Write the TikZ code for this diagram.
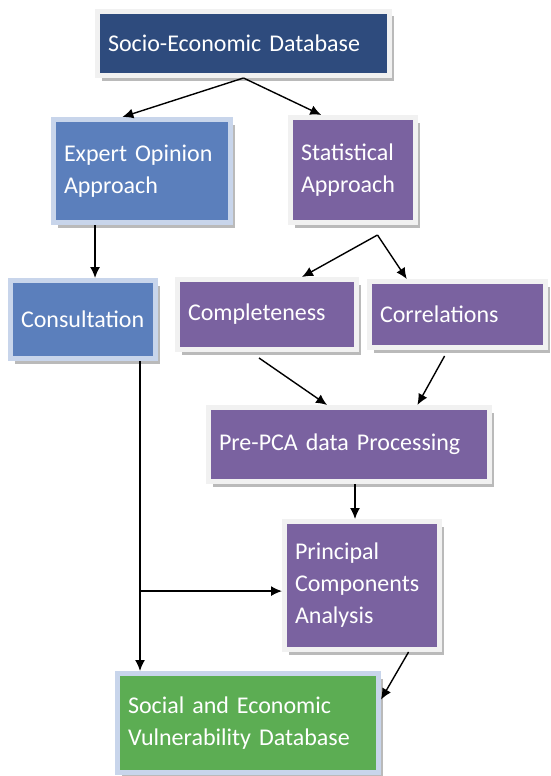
\documentclass[tikz,border=0pt]{standalone}
\usepackage{fontspec}
\setmainfont{Carlito}[WordSpace=0.6]
\usetikzlibrary{shadows}
\usetikzlibrary{arrows.meta}
\tikzset{>={Latex[length=11pt,width=10pt]}}
\definecolor{mynavy}{HTML}{2E4B7D}
\definecolor{myblue}{HTML}{5B7FBC}
\definecolor{mypurple}{HTML}{7A62A0}
\definecolor{mygreen}{HTML}{5CAD53}
\definecolor{mylightblue}{HTML}{C8D5EB}
\definecolor{mywhiteframe}{HTML}{F1F1F1}

\begin{document}
\begin{tikzpicture}[x=1pt, y=-1pt,
    box/.style={rectangle, line width=5pt, text=white, align=left,
        inner xsep=10.5pt, inner ysep=2pt,
        font=\fontsize{24}{32}\selectfont,
        drop shadow={shadow xshift=4pt, shadow yshift=-5pt, fill=black!45, opacity=0.6}},
    navybox/.style={box, fill=mynavy, draw=mywhiteframe},
    bluebox/.style={box, fill=myblue, draw=mylightblue},
    purplebox/.style={box, fill=mypurple, draw=mywhiteframe},
    greenbox/.style={box, fill=mygreen, draw=mylightblue},
    link/.style={->, line width=1.4pt}]

    \useasboundingbox (0,0) rectangle (550,776);

    % boxes
    \node[navybox, text width=271pt, minimum height=64pt] (socio) at (243.5,43.5) {Socio-Economic Database};
    \node[bluebox, text width=156pt, minimum height=103pt] (expert) at (142,171) {Expert Opinion\\Approach};
    \node[purplebox, text width=104pt, minimum height=105pt] (stat) at (353,170) {Statistical\\Approach};
    \node[bluebox, text width=124pt, minimum height=78pt] (consult) at (83,319.5) {Consultation};
    \node[purplebox, text width=158pt, minimum height=70pt] (complete) at (267,314.5) {Completeness};
    \node[purplebox, text width=155pt, minimum height=66pt] (correl) at (457.5,314.5) {Correlations};
    \node[purplebox, text width=260pt, minimum height=74pt] (prepca) at (349,444.5) {Pre-PCA data Processing};
    \node[purplebox, text width=134pt, minimum height=128pt] (pca) at (362,585.5) {Principal\\Components\\Analysis};
    \node[greenbox, text width=240pt, minimum height=99pt] (social) at (248,723) {Social and Economic\\Vulnerability Database};

    % arrows
    \draw[link] (socio.south) -- (expert.110);
    \draw[link] (socio.south) -- (stat.120);
    \draw[link] (expert.229) -- (consult.north -| expert.229);
    \coordinate (split) at ([yshift=-10pt]stat.294);
    \draw[link] (split) -- (complete.47);
    \draw[link] (split) -- (correl.145);
    \draw[link] ([yshift=-6pt]complete.258) -- (prepca.119);
    \draw[link] ([yshift=-6pt]correl.250) -- (prepca.30);
    \draw[link] ([xshift=6pt]prepca.south) -- ([xshift=6pt]prepca.south |- pca.north);
    \coordinate (cdrop) at ([xshift=57pt]consult.south);
    \draw[link] (cdrop) -- (cdrop |- social.north);
    \draw[link] (cdrop |- pca.184) -- (pca.184);
    \draw[link] (pca.305) -- (social.10);

\end{tikzpicture}
\end{document}
